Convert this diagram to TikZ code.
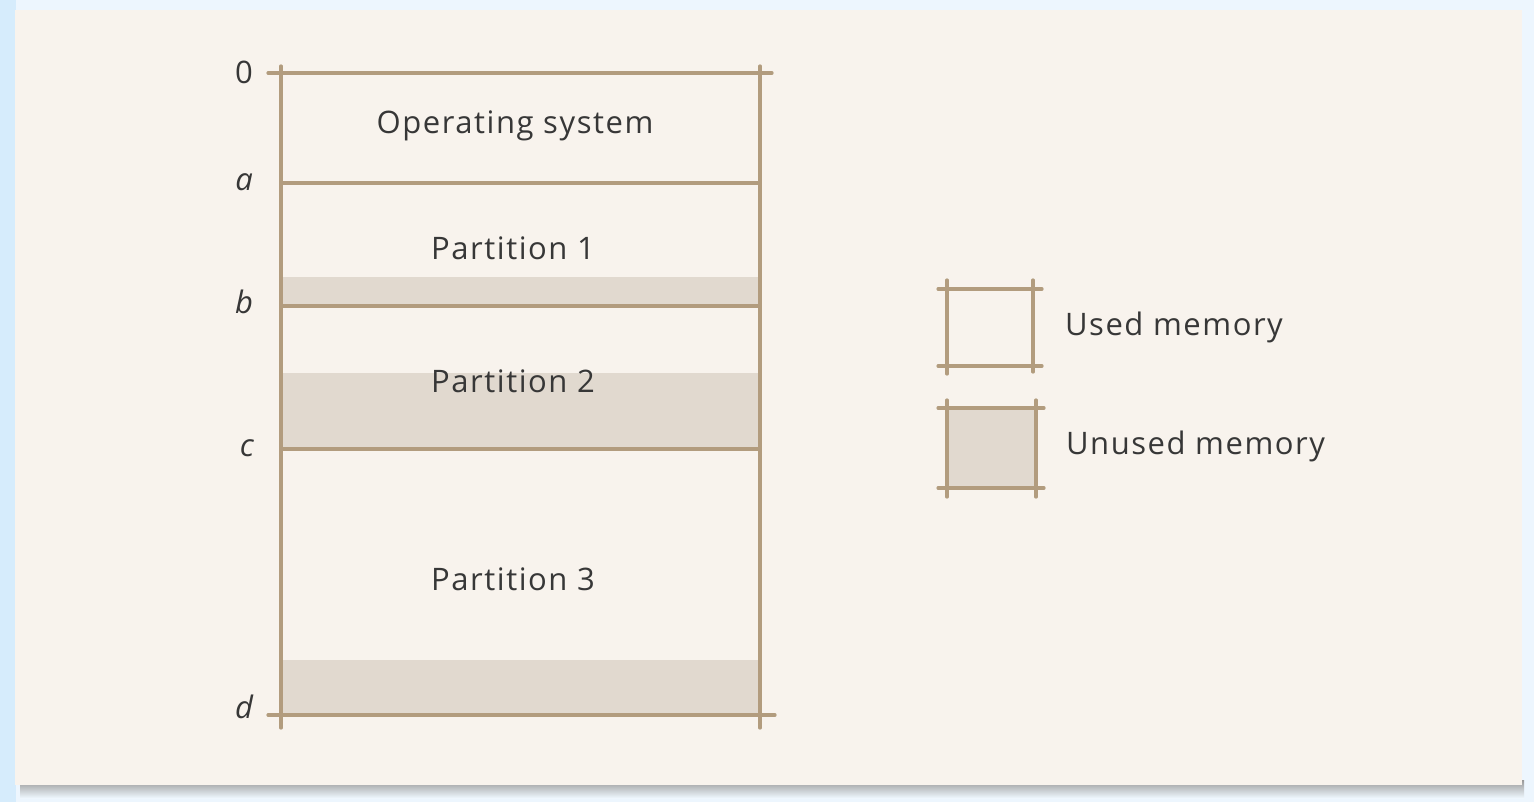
\documentclass[tikz,border=0pt]{standalone}
\usepackage{fontspec}
\setmainfont[LetterSpace=5]{Open Sans}
\usetikzlibrary{positioning}
\definecolor{sky}{RGB}{214,236,252}
\definecolor{paper}{RGB}{248,243,237}
\definecolor{rim}{RGB}{178,156,126}
\definecolor{spare}{RGB}{225,217,207}
\definecolor{ink}{RGB}{55,55,55}

\begin{document}
\begin{tikzpicture}[x=0.5pt, y=-0.5pt,
    wall/.style={draw=rim, line width=1.6pt, line cap=round},
    spare/.style={fill=spare},
    lbl/.style={text=ink, font=\fontsize{15.5}{18}\selectfont},
    addr/.style={lbl, anchor=east}]
    \useasboundingbox (0,0) rectangle (1534,802);
    % backdrop and card
    \fill[sky!45] (0,0) rectangle (1534,802);
    \fill[sky] (0,0) rectangle (16,802);
    \shade[top color=black!40, bottom color=sky!40] (20,780) rectangle (1524,798);
    \fill[paper] (15,10) rectangle (1522,785);

    % unused parts of the partitions
    \fill[spare] (281,277) rectangle (760,306);
    \fill[spare] (281,373) rectangle (760,449);
    \fill[spare] (281,660) rectangle (760,715);

    % memory column
    \coordinate (tl) at (281,73);  \coordinate (tr) at (760,73);
    \coordinate (bl) at (281,715); \coordinate (br) at (760,715);
    \draw[wall] ([yshift=3.5pt]tl) -- ([yshift=-6.5pt]bl);
    \draw[wall] ([yshift=3.5pt]tr) -- ([yshift=-6.5pt]br);
    \draw[wall] ([xshift=-6.5pt]tl) -- ([xshift=6pt]tr);
    \draw[wall] ([xshift=-6.5pt]bl) -- ([xshift=7.5pt]br);
    \foreach \y in {183,306,449}
        \draw[wall] (281,\y) -- (760,\y);

    \node[addr] (l0) at (260,72) {0};
    \node[addr] (la) at (260,182) {\itshape a};
    \node[addr] (lb) at (260,302) {\itshape b};
    \node[addr] (lc) at (261,448) {\itshape c};
    \node[addr] (ld) at (260,707) {\itshape d};

    \node[lbl] (os) at (515,126) {Operating system};
    \node[lbl] (part1) at (513,248) {Partition 1};
    \node[lbl] (part2) at (513,381) {Partition 2};
    \node[lbl] (part3) at (513,579) {Partition 3};

    % key
    \fill[spare] (947,408) rectangle (1036,488);
    \draw[wall] (947,280) -- (947,374);
    \draw[wall] (1033,280) -- (1033,372);
    \draw[wall] (938,289) -- (1042,289);
    \draw[wall] (938,366) -- (1042,366);
    \draw[wall] (947,400) -- (947,497);
    \draw[wall] (1036,400) -- (1036,497);
    \draw[wall] (938,408) -- (1044,408);
    \draw[wall] (938,488) -- (1044,488);
    \node[lbl, anchor=west] (used) at (1058,327) {Used memory};
    \node[lbl, anchor=west] (unused) at (1059,446) {Unused memory};
\end{tikzpicture}
\end{document}
